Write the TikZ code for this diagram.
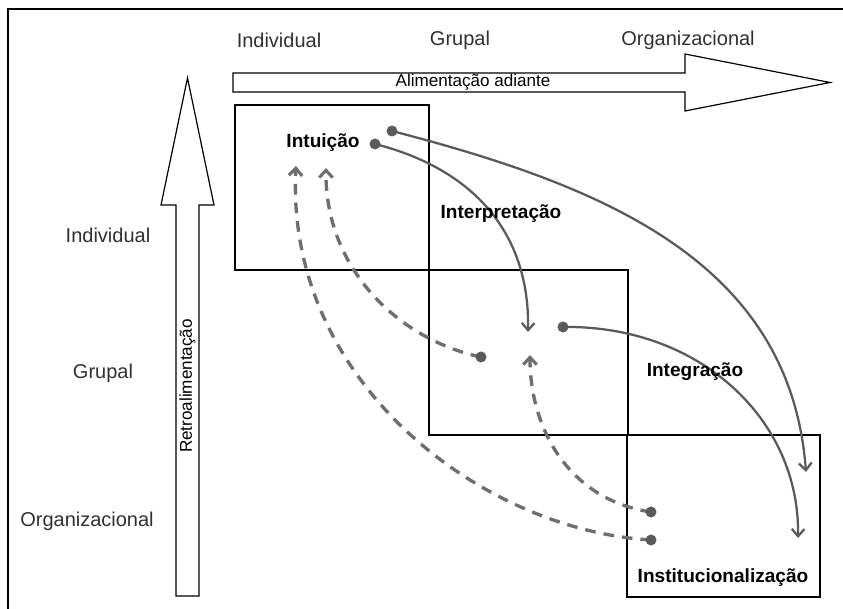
\documentclass[tikz,border=0pt]{standalone}
\usepackage{fontspec}
\setmainfont{Liberation Sans}
\usetikzlibrary{arrows.meta}

\definecolor{flowgray}{HTML}{5A5A5A}
\definecolor{backgray}{HTML}{6E6E6E}
\definecolor{labelgray}{HTML}{303030}

\tikzset{
    levellabel/.style={font=\fontsize{15}{18}\selectfont, text=labelgray},
    processlabel/.style={font=\fontsize{14.3}{17}\selectfont\bfseries},
    arrowtext/.style={font=\fontsize{12.8}{15}\selectfont},
    levelbox/.style={draw, line width=1.9pt},
    feedforward/.style={draw=flowgray, line width=1.7pt, -{Straight Barb[length=5.5pt,width=9.5pt,line width=1.7pt]}},
    feedback/.style={draw=backgray, line width=2.5pt, dash pattern=on 8pt off 6pt, -{Straight Barb[length=5.5pt,width=10pt,line width=2.3pt]}},
    startdot/.style={fill=flowgray}
}

\begin{document}
\begin{tikzpicture}[x=0.75pt, y=-0.75pt]
    \useasboundingbox (0,0) rectangle (843,609);

    % Draw the frame
    \draw[line width=1.7pt] (8,609) -- (8,9) -- (843,9);

    % Draw the two big arrows
    \draw[line width=0.9pt] (233,73) -- (685,73) -- (685,54) -- (830,82.5)
        -- (685,111) -- (685,92) -- (233,92) -- cycle;
    \draw[line width=0.9pt] (176,596) -- (176,205) -- (161,205) -- (187.5,78)
        -- (214,205) -- (199,205) -- (199,596) -- cycle;
    \node[arrowtext] (ffText) at (473,82.5) {Alimentação adiante};
    \node[arrowtext, rotate=90] (fbText) at (187.5,386) {Retroalimentação};

    % Draw the level labels
    \node[levellabel] (topInd) at (279,40) {Individual};
    \node[levellabel] (topGrp) at (460,40) {Grupal};
    \node[levellabel] (topOrg) at (688,40) {Organizacional};
    \node[levellabel] (leftInd) at (108,235) {Individual};
    \node[levellabel] (leftGrp) at (103,373) {Grupal};
    \node[levellabel] (leftOrg) at (87,521) {Organizacional};

    % Draw the three level boxes
    \draw[levelbox] (235,105) rectangle (429,270);
    \draw[levelbox] (429,270) rectangle (628,435);
    \draw[levelbox] (627,435) rectangle (820,597);

    % Start and end points of the flows
    \coordinate (intA) at (392,131);
    \coordinate (intB) at (375,144);
    \coordinate (interpEnd) at (528,332);
    \coordinate (integStart) at (563,327);
    \coordinate (instEndA) at (806,472);
    \coordinate (instEndB) at (798,538);
    \coordinate (grpBack) at (481,357);
    \coordinate (instBackA) at (651,512);
    \coordinate (instBackB) at (651,540);
    \coordinate (intEndA) at (296,166);
    \coordinate (intEndB) at (326,168);
    \coordinate (grpEnd) at (530,355);

    % Draw feed-forward flows
    \draw[feedforward] (intA) .. controls (600,185) and (790,260) .. (instEndA);
    \draw[feedforward] (intB) .. controls (470,168) and (530,230) .. (interpEnd);
    \draw[feedforward] (integStart) .. controls (700,325) and (800,420) .. (instEndB);

    % Draw feedback flows
    \draw[feedback] (grpBack) .. controls (400,340) and (325,270) .. (intEndB);
    \draw[feedback] (instBackB) .. controls (480,530) and (285,380) .. (intEndA);
    \draw[feedback] (instBackA) .. controls (570,500) and (530,430) .. (grpEnd);

    % Draw the dots
    \fill[startdot] (intA) circle (5.5);
    \fill[startdot] (intB) circle (5.5);
    \fill[startdot] (integStart) circle (5.5);
    \fill[startdot] (grpBack) circle (5.5);
    \fill[startdot] (instBackA) circle (5.5);
    \fill[startdot] (instBackB) circle (5.5);

    % Process labels
    \node[processlabel] (intuicao) at (323,143) {Intuição};
    \node[processlabel] (interp) at (501,214) {Interpretação};
    \node[processlabel] (integ) at (695,372) {Integração};
    \node[processlabel] (inst) at (723,578) {Institucionalização};
\end{tikzpicture}
\end{document}
